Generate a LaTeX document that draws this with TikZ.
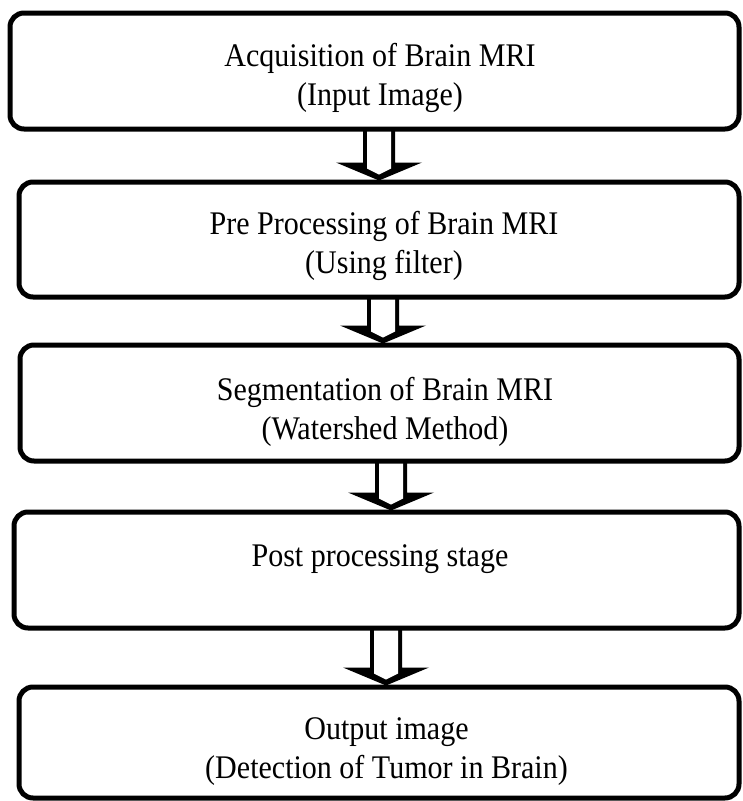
\documentclass[tikz,border=0pt]{standalone}
\usepackage{fontspec}
\setmainfont{Liberation Serif}
\newfontfamily\stagefont[FakeStretch=0.91]{Liberation Serif}
\usetikzlibrary{calc}
\tikzset{
  stagebox/.style={draw=black, line width=5pt, rounded corners=14pt, fill=white},
  stagetext/.style={align=center, font=\stagefont\fontsize{33}{39}\selectfont, inner sep=0pt},
}
% block arrow from node #1 (bottom) to node #2 (top), axis at coordinate #3
\newcommand\hollowarrow[3]{%
  \fill[black]
    ($(#1.south -| #3)+(-16,-3)$) -- ($(#2.north -| #3)+(-16,-17)$) --
    ($(#2.north -| #3)+(-43,-17)$) -- ($(#2.north -| #3)+(0,1)$) --
    ($(#2.north -| #3)+(43,-17)$) -- ($(#2.north -| #3)+(16,-17)$) --
    ($(#1.south -| #3)+(16,-3)$) -- cycle;
  \fill[white]
    ($(#1.south -| #3)+(-12,0)$) -- ($(#2.north -| #3)+(-12,-11)$) --
    ($(#2.north -| #3)+(0,-5)$) -- ($(#2.north -| #3)+(12,-11)$) --
    ($(#1.south -| #3)+(12,0)$) -- cycle;
}
\begin{document}
\begin{tikzpicture}[x=1pt,y=-1pt]
  \useasboundingbox[fill=white] (0,0) rectangle (743,801);
  % boxes
  \node[stagebox, minimum width=729pt, minimum height=116pt] (b1) at (374.5,71) {};
  \node[stagebox, minimum width=720pt, minimum height=115pt] (b2) at (379,239.5) {};
  \node[stagebox, minimum width=719pt, minimum height=116pt] (b3) at (379.5,403) {};
  \node[stagebox, minimum width=725pt, minimum height=116pt] (b4) at (376.5,570) {};
  \node[stagebox, minimum width=720pt, minimum height=111pt] (b5) at (379,742.5) {};
  % texts
  \node[stagetext] (t1) at (380,78) {Acquisition of Brain MRI\\(Input Image)};
  \node[stagetext] (t2) at (384,246) {Pre Processing of Brain MRI\\(Using filter)};
  \node[stagetext] (t3) at (385,412) {Segmentation of Brain MRI\\(Watershed Method)};
  \node[stagetext] (t4) at (380,559) {Post processing stage};
  \node[stagetext] (t5) at (386.5,752) {Output image\\(Detection of Tumor in Brain)};
  % arrow axes
  \coordinate (a1) at (379,0);
  \coordinate (a2) at (383,0);
  \coordinate (a3) at (391,0);
  \coordinate (a4) at (386,0);
  \hollowarrow{b1}{b2}{a1}
  \hollowarrow{b2}{b3}{a2}
  \hollowarrow{b3}{b4}{a3}
  \hollowarrow{b4}{b5}{a4}
\end{tikzpicture}
\end{document}
